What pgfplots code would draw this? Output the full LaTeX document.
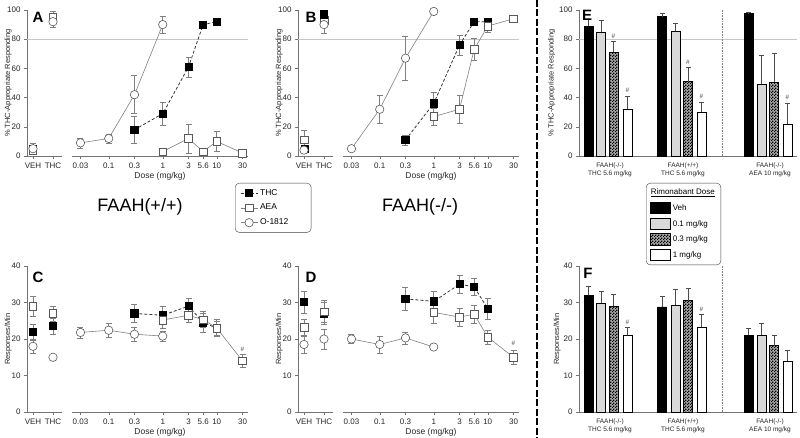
\documentclass[border=0pt]{standalone}
\usepackage{pgfplots}
\pgfplotsset{compat=1.18}
\usepackage{fontspec}
\setmainfont{Liberation Sans}
\usetikzlibrary{patterns}
\pgfdeclarepatternformonly{fcheck}{\pgfpointorigin}{\pgfqpoint{3pt}{3pt}}{\pgfqpoint{3pt}{3pt}}{%
  \pgfpathrectangle{\pgfpointorigin}{\pgfqpoint{1.55pt}{1.55pt}}%
  \pgfpathrectangle{\pgfqpoint{1.5pt}{1.5pt}}{\pgfqpoint{1.55pt}{1.55pt}}%
  \pgfusepath{fill}}
\pgfplotsset{
  pbase/.style={scale only axis, clip=false, anchor=south west,
    axis line style={-, black!55}, tick style={black!55}, tick align=outside,
    major tick length=3pt,
    ticklabel style={font=\fontsize{8}{9}\selectfont, black!85},
    label style={font=\fontsize{7.5}{9}\selectfont, black!85},
    /pgf/number format/assume math mode=true},
  plft/.style={pbase, width=35pt, height=146pt, xmin=0.7, xmax=2.45,
    axis x line*=bottom, axis y line*=left, xtick={1,2}, xticklabels={VEH,THC},
    ylabel style={at={(axis description cs:-0.54,0.5)}, anchor=center}},
  pmn/.style={pbase, width=176pt, height=146pt, xmin=0.0209, xmax=37.9,
    axis x line*=bottom, axis y line=none, ytick=\empty, xminorticks=false,
    xtick={0.03,0.1,0.3,1,3,5.6,10,30}, xticklabels={0.03,0.1,0.3,1,3,5.6,10,30},
    xlabel={Dose (mg/kg)}, xlabel style={yshift=3pt, font=\fontsize{8.5}{10}\selectfont}},
  peb/.style={error bars/y dir=both, error bars/y explicit,
    error bars/error bar style={solid, black!50, line width=0.5pt},
    error bars/error mark options={solid, rotate=90, black!50, mark size=3pt}},
  sthc/.style={densely dashed, black!80, line width=0.8pt, mark=square*,
    mark options={solid, fill=black, draw=black}, mark size=3.6pt},
  saea/.style={solid, black!50, line width=0.6pt, mark=square*,
    mark options={solid, fill=white, draw=black!65}, mark size=3.8pt},
  soo/.style={solid, black!50, line width=0.6pt, mark=*,
    mark options={solid, fill=white, draw=black!65}, mark size=4.2pt},
  prefl/.style={black!22, line width=0.6pt, forget plot},
  pbx/.style={pbase, width=218pt, height=146pt, xmin=579, xmax=797,
    axis x line*=bottom, axis y line*=left, xtick={610,683,770},
    x tick style={draw=none},
    xticklabel style={align=center, font=\fontsize{6.5}{8}\selectfont},
    xticklabels={{FAAH(-/-)\\THC 5.6 mg/kg},{FAAH(+/+)\\THC 5.6 mg/kg},{FAAH(-/-)\\AEA 10 mg/kg}}},
  pbb/.style={ybar, bar width=9, bar shift=0pt, draw=black, line width=0.6pt,
    error bars/y dir=plus, error bars/y explicit,
    error bars/error bar style={black!70, line width=0.6pt},
    error bars/error mark options={rotate=90, black!70, mark size=2.5pt}},
  chk/.style={fill=black!35, postaction={pattern=fcheck, pattern color=black}},
}
\begin{document}
\begin{tikzpicture}
\useasboundingbox (0pt,0pt) rectangle (800pt,-438pt);
% ---------------- Panel A ----------------
\begin{axis}[plft, at={(27pt,-156pt)}, ymin=0, ymax=100, ytick={0,20,...,100},
  ylabel={\% THC-Appropriate Responding}]
\addplot[prefl] coordinates {(0.7,80) (2.95,80)};
\addplot[sthc, peb, only marks] coordinates {(1,5) +- (0,2) (2,95) +- (0,2)};
\addplot[saea, peb, only marks] coordinates {(1,4) +- (0,3) (2,95) +- (0,4)};
\addplot[soo, peb, only marks] coordinates {(1,5) +- (0,4) (2,92) +- (0,4)};
\end{axis}
\begin{axis}[pmn, xmode=log, at={(72pt,-156pt)}, ymin=0, ymax=100]
\addplot[prefl] coordinates {(0.0209,80) (37.9,80)};
\addplot[sthc, peb] coordinates {(0.3,18) +- (0,9.5) (1,29) +- (0,8) (3,61) +- (0,7) (5.6,90) +- (0,1.5) (10,92) +- (0,1)};
\addplot[saea, peb] coordinates {(1,3) +- (0,1) (3,12) +- (0,10) (5.6,3) +- (0,1) (10,10) +- (0,7) (30,2) +- (0,1)};
\addplot[soo, peb] coordinates {(0.03,9) +- (0,3.5) (0.1,12) +- (0,3) (0.3,42) +- (0,13) (1,90) +- (0,6)};
\end{axis}
% ---------------- Panel B ----------------
\begin{axis}[plft, at={(298pt,-156pt)}, ymin=0, ymax=100, ytick={0,20,...,100},
  ylabel={\% THC-Appropriate Responding}]
\addplot[prefl] coordinates {(0.7,80) (2.95,80)};
\addplot[saea, peb, only marks] coordinates {(1,11) +- (0,7) (2,93) +- (0,3)};
\addplot[sthc, peb, only marks] coordinates {(1.05,5) +- (0,2) (2,97) +- (0,1)};
\addplot[soo, peb, only marks] coordinates {(1,4) +- (0,2) (2,90) +- (0,6)};
\end{axis}
\begin{axis}[pmn, xmode=log, at={(343pt,-156pt)}, ymin=0, ymax=100]
\addplot[prefl] coordinates {(0.0209,80) (37.9,80)};
\addplot[sthc, peb] coordinates {(0.3,11) +- (0,3.5) (1,36) +- (0,8) (3,76) +- (0,7) (5.6,92) +- (0,1) (10,92) +- (0,2.5)};
\addplot[saea, peb] coordinates {(1,27) +- (0,6) (3,32) +- (0,9.5) (5.6,73) +- (0,7.5) (10,89) +- (0,4.5) (30,94) +- (0,1)};
\addplot[soo, peb] coordinates {(0.03,5) +- (0,1) (0.1,32) +- (0,9.5) (0.3,67) +- (0,15) (1,99) +- (0,1)};
\end{axis}
% ---------------- Panel C ----------------
\begin{axis}[plft, at={(27pt,-412pt)}, ymin=0, ymax=40, ytick={0,10,...,40},
  ylabel={Responses/Min}]
\addplot[saea, peb, only marks] coordinates {(1,29) +- (0,2.7) (2,27) +- (0,2)};
\addplot[sthc, peb, only marks] coordinates {(1,22) +- (0,2) (2,23.5) +- (0,2.3)};
\addplot[soo, peb, only marks] coordinates {(1,18) +- (0,1.8) (2,15) +- (0,0.8)};
\end{axis}
\begin{axis}[pmn, xmode=log, at={(72pt,-412pt)}, ymin=0, ymax=40]
\addplot[sthc, peb] coordinates {(0.3,27) +- (0,2.5) (1,26.5) +- (0,2.5) (3,29) +- (0,2.3) (5.6,24.5) +- (0,2.5) (10,23) +- (0,2)};
\addplot[saea, peb] coordinates {(1,25.2) +- (0,2.2) (3,26.5) +- (0,1.8) (5.6,25.3) +- (0,2.2) (10,23) +- (0,2.3) (30,14) +- (0,1.8)};
\addplot[soo, peb] coordinates {(0.03,21.8) +- (0,1.5) (0.1,22.4) +- (0,1.8) (0.3,21.3) +- (0,2) (1,20.8) +- (0,1.4)};
\node[font=\fontsize{6.5}{6.5}\selectfont, black!70] at (axis cs:30,17.3) {\#};
\end{axis}
% ---------------- Panel D ----------------
\begin{axis}[plft, at={(298pt,-412pt)}, ymin=0, ymax=40, ytick={0,10,...,40},
  ylabel={Responses/Min}]
\addplot[sthc, peb, only marks] coordinates {(1,30.2) +- (0,3) (2,27) +- (0,3)};
\addplot[saea, peb, only marks] coordinates {(1,23.2) +- (0,2.2) (2,27.5) +- (0,3)};
\addplot[soo, peb, only marks] coordinates {(1,18.5) +- (0,2.3) (2,20) +- (0,2.7)};
\end{axis}
\begin{axis}[pmn, xmode=log, at={(343pt,-412pt)}, ymin=0, ymax=40]
\addplot[sthc, peb] coordinates {(0.3,31) +- (0,3.2) (1,30.3) +- (0,2.8) (3,35) +- (0,2.4) (5.6,34.3) +- (0,2.3) (10,28.3) +- (0,3)};
\addplot[saea, peb] coordinates {(1,27.3) +- (0,2.9) (3,26) +- (0,2.4) (5.6,26.8) +- (0,2.4) (10,20.5) +- (0,2) (30,15) +- (0,2)};
\addplot[soo, peb] coordinates {(0.03,20) +- (0,1.2) (0.1,18.5) +- (0,2.3) (0.3,20.3) +- (0,1.7) (1,17.8) +- (0,0.3)};
\node[font=\fontsize{6.5}{6.5}\selectfont, black!70] at (axis cs:30,18.7) {\#};
\end{axis}
% ---------------- legend for A-D ----------------
\begin{axis}[scale only axis, hide axis, anchor=south west, at={(235pt,-238pt)},
  width=80pt, height=55pt, xmin=0, xmax=1, ymin=0, ymax=1,
  legend style={at={(0,1)}, anchor=north west, draw=black!75,
    rounded corners=4pt, font=\fontsize{8.5}{10}\selectfont, row sep=3.5pt,
    inner xsep=5pt, inner ysep=4pt, text width=44pt},
  legend cell align=left]
\addlegendimage{sthc}
\addlegendentry{THC}
\addlegendimage{saea}
\addlegendentry{AEA}
\addlegendimage{soo}
\addlegendentry{O-1812}
\end{axis}
% ---------------- Panel E ----------------
\begin{axis}[pbx, at={(579pt,-156pt)}, ymin=0, ymax=100, ytick={0,20,...,100},
  ylabel={\% THC-Appropriate Responding},
  ylabel style={at={(axis description cs:-0.125,0.5)}, anchor=center}]
\addplot[prefl] coordinates {(579,80) (797,80)};
\addplot[black!50, densely dotted, line width=0.6pt, forget plot] coordinates {(722,0) (722,100)};
\addplot[pbb, fill=black] coordinates {(588.5,89) +- (0,5) (662,95.5) +- (0,2) (748.5,97.5) +- (0,1)};
\addplot[pbb, fill=black!15] coordinates {(601,85) +- (0,8) (675.5,85.5) +- (0,5.5) (761.5,49) +- (0,20)};
\addplot[pbb, chk] coordinates {(613.5,71) +- (0,7.5) (688,51) +- (0,9.5) (774,50.5) +- (0,20)};
\addplot[pbb, fill=white] coordinates {(627.5,32) +- (0,9) (701.5,30) +- (0,7) (787.5,22) +- (0,14.5)};
\node[font=\fontsize{6.5}{6.5}\selectfont, black!70] at (axis cs:613.5,82) {\#};
\node[font=\fontsize{6.5}{6.5}\selectfont, black!70] at (axis cs:627.5,45) {\#};
\node[font=\fontsize{6.5}{6.5}\selectfont, black!70] at (axis cs:688,64) {\#};
\node[font=\fontsize{6.5}{6.5}\selectfont, black!70] at (axis cs:701.5,41) {\#};
\node[font=\fontsize{6.5}{6.5}\selectfont, black!70] at (axis cs:787.5,40) {\#};
\end{axis}
% ---------------- legend for E/F ----------------
\begin{axis}[scale only axis, hide axis, anchor=south west, at={(646pt,-277pt)},
  width=80pt, height=94pt, xmin=0, xmax=1, ymin=0, ymax=1,
  legend style={at={(0,1)}, anchor=north west, draw=black!75,
    rounded corners=4pt, font=\fontsize{8}{10}\selectfont, row sep=3.5pt,
    inner xsep=4pt, inner ysep=4pt},
  legend cell align=left,
  legend image code/.code={\draw[#1, solid, sharp corners] (0pt,-5.5pt) rectangle (20pt,6pt);}]
\addlegendimage{empty legend}
\addlegendentry{\hspace{-22pt}\underline{Rimonabant Dose}}
\addlegendimage{draw=black, line width=0.6pt, fill=black}
\addlegendentry{Veh}
\addlegendimage{draw=black, line width=0.6pt, fill=black!15}
\addlegendentry{0.1 mg/kg}
\addlegendimage{draw=black, line width=0.6pt, chk}
\addlegendentry{0.3 mg/kg}
\addlegendimage{draw=black, line width=0.6pt, fill=white}
\addlegendentry{1 mg/kg}
\end{axis}
% ---------------- Panel F ----------------
\begin{axis}[pbx, at={(579pt,-412pt)}, ymin=0, ymax=40, ytick={0,10,...,40},
  ylabel={Responses/Min},
  ylabel style={at={(axis description cs:-0.1,0.5)}, anchor=center}]
\addplot[black!50, densely dotted, line width=0.6pt, forget plot] coordinates {(722,0) (722,40)};
\addplot[pbb, fill=black] coordinates {(588.5,32) +- (0,2.5) (662,28.8) +- (0,2.8) (748.5,21) +- (0,2)};
\addplot[pbb, fill=black!15] coordinates {(601,29.8) +- (0,3.3) (675.5,29.2) +- (0,4.5) (761.5,21) +- (0,3.2)};
\addplot[pbb, chk] coordinates {(613.5,29) +- (0,3.2) (688,30.5) +- (0,3.5) (774,18.2) +- (0,2.8)};
\addplot[pbb, fill=white] coordinates {(627.5,21) +- (0,2.3) (701.5,23.3) +- (0,3.5) (787.5,14) +- (0,3)};
\node[font=\fontsize{6.5}{6.5}\selectfont, black!70] at (axis cs:627.5,24.6) {\#};
\node[font=\fontsize{6.5}{6.5}\selectfont, black!70] at (axis cs:701.5,28.1) {\#};
\end{axis}
% ---------------- annotations ----------------
\node[font=\bfseries\fontsize{15}{15}\selectfont] at (38pt,-17pt) {A};
\node[font=\bfseries\fontsize{15}{15}\selectfont] at (311pt,-17pt) {B};
\node[font=\bfseries\fontsize{15}{15}\selectfont] at (38pt,-277pt) {C};
\node[font=\bfseries\fontsize{15}{15}\selectfont] at (311pt,-277pt) {D};
\node[font=\bfseries\fontsize{15}{15}\selectfont] at (587pt,-15pt) {E};
\node[font=\bfseries\fontsize{15}{15}\selectfont] at (588pt,-273pt) {F};
\node[font=\fontsize{18}{18}\selectfont] at (140pt,-207pt) {FAAH(+/+)};
\node[font=\fontsize{18}{18}\selectfont] at (420pt,-207pt) {FAAH(-/-)};
\draw[black, line width=2.6pt, dash pattern=on 7pt off 2.5pt] (537pt,0pt) -- (537pt,-438pt);
\end{tikzpicture}
\end{document}
